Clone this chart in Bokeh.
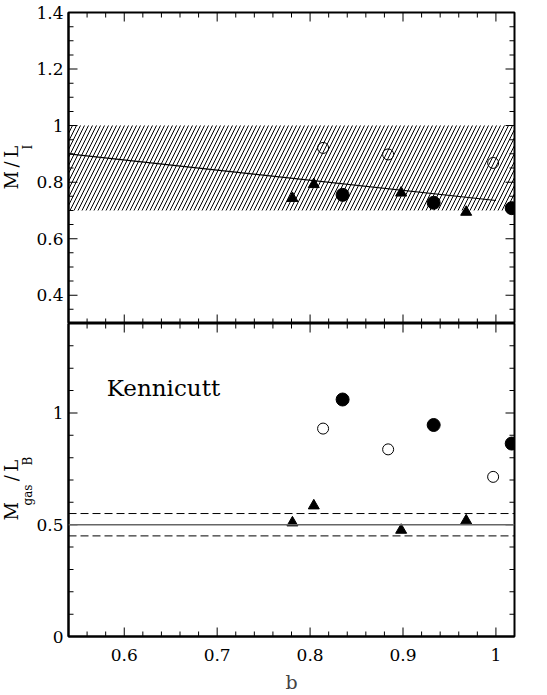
from bokeh.plotting import figure
from bokeh.layouts import column
from bokeh.models import (LinearAxis, FixedTicker, CustomJSTickFormatter,
                          BoxAnnotation, Label, Span, Range1d, Title)
from bokeh.embed import file_html
from bokeh.resources import INLINE
import numpy as np

# ---------------- data ----------------
b_open = [0.814, 0.884, 0.997]
b_filled = [0.835, 0.933, 1.017]
b_tri = [0.781, 0.804, 0.898, 0.968]

ml_open = [0.921, 0.898, 0.868]
ml_filled = [0.755, 0.727, 0.708]
ml_tri = [0.743, 0.792, 0.762, 0.694]

fit_b = [0.54, 1.0]
fit_ml = [0.900, 0.735]

band_low, band_high = 0.70, 1.00

gas_open = [0.930, 0.837, 0.714]
gas_filled = [1.060, 0.946, 0.863]
gas_tri = [0.509, 0.585, 0.476, 0.518]

kennicutt_mean = 0.50
kennicutt_lo = 0.45
kennicutt_hi = 0.55

x_range = (0.54, 1.02)
top_yrange = (0.3, 1.4)
bot_yrange = (0.0, 1.4)

x_major, x_minor = 0.1, 0.02
top_major, top_minor = 0.2, 0.05
bot_major, bot_minor = 0.5, 0.1

FONT = "DejaVu Serif"
TICK_FS = "17px"
FRAME_W = 446
TOP_H = 311
BOT_H = 313
MAJ_LEN, MIN_LEN = 9, 5
NB = "\u00a0"

fmt = CustomJSTickFormatter(code="""
var s = tick.toFixed(1);
if (s.endsWith('.0')) { s = s.slice(0, -2); }
if (s == '-0') { s = '0'; }
return s;
""")

xr = Range1d(*x_range)


def tick_values(lo, hi, step, major_step):
    vals = np.round(np.arange(lo, hi + step * 0.01, step), 4)
    vals = vals[(vals >= lo - 1e-9) & (vals <= hi + 1e-9)]
    is_major = np.isclose(np.round(vals / major_step) * major_step, vals, atol=1e-6)
    return [float(v) for v in vals[is_major]], [float(v) for v in vals[~is_major]]


def frame_ticks(p, yr, frame_h, ymaj_step, ymin_step):
    """Inward ticks on all four frame edges, drawn as thin filled bars (1px wide)."""
    xpp = (x_range[1] - x_range[0]) / FRAME_W
    ypp = (yr[1] - yr[0]) / frame_h
    xM, xm = tick_values(x_range[0], x_range[1], x_minor, x_major)
    yM, ym = tick_values(yr[0], yr[1], ymin_step, ymaj_step)
    L, R, B, T = [], [], [], []
    for xs, ln in [(xM, MAJ_LEN), (xm, MIN_LEN)]:
        for xv in xs:
            # bottom edge, pointing up
            L.append(xv - 0.5 * xpp); R.append(xv + 0.5 * xpp)
            B.append(yr[0]); T.append(yr[0] + ln * ypp)
            # top edge, pointing down
            L.append(xv - 0.5 * xpp); R.append(xv + 0.5 * xpp)
            B.append(yr[1] - ln * ypp); T.append(yr[1])
    for ys, ln in [(yM, MAJ_LEN), (ym, MIN_LEN)]:
        for yv in ys:
            L.append(x_range[0]); R.append(x_range[0] + ln * xpp)
            B.append(yv - 0.5 * ypp); T.append(yv + 0.5 * ypp)
            L.append(x_range[1] - ln * xpp); R.append(x_range[1])
            B.append(yv - 0.5 * ypp); T.append(yv + 0.5 * ypp)
    p.quad(left=L, right=R, bottom=B, top=T, fill_color="black", line_color=None)
    return yM


def label_axis(ax, ticks):
    ax.ticker = FixedTicker(ticks=[float(t) for t in ticks])
    ax.major_tick_in = 0
    ax.major_tick_out = 0
    ax.minor_tick_in = 0
    ax.minor_tick_out = 0
    ax.axis_line_width = 2
    ax.axis_line_color = "black"
    ax.formatter = fmt
    ax.major_label_text_font = FONT
    ax.major_label_text_font_size = TICK_FS
    ax.major_label_text_color = "black"


def make_fig(yr, frame_h, top_border, bottom_border):
    p = figure(x_range=xr, y_range=Range1d(*yr), frame_width=FRAME_W, frame_height=frame_h,
               output_backend="svg", toolbar_location=None,
               min_border_left=67, min_border_right=20,
               min_border_top=top_border, min_border_bottom=bottom_border,
               x_axis_location=None, y_axis_location=None)
    p.grid.visible = False
    p.outline_line_color = "black"
    p.outline_line_width = 2
    p.background_fill_color = None
    p.border_fill_color = None
    return p


def side_title(p, text, size, offset):
    t = Title(text=text, align="left", offset=offset, standoff=0,
              text_font=FONT, text_font_size=size, text_font_style="normal",
              text_color="black")
    try:
        t.standoff = -3
    except Exception:
        pass
    p.add_layout(t, "left")


# ---------------- top panel ----------------
p1 = make_fig(top_yrange, TOP_H, 12, 0)
band = BoxAnnotation(bottom=band_low, top=band_high, fill_alpha=0, line_color=None,
                     hatch_pattern="/", hatch_color="black", hatch_scale=8, hatch_weight=1)
p1.add_layout(band)
p1.line(fit_b, fit_ml, line_color="black", line_width=1.2)
p1.scatter(b_open, ml_open, marker="circle", size=11, fill_color="white",
           line_color="black", line_width=1)
p1.scatter(b_filled, ml_filled, marker="circle", size=13, fill_color="black",
           line_color="black")
p1.scatter(b_tri, ml_tri, marker="triangle", size=11, fill_color="black",
           line_color="black")
yM_top = frame_ticks(p1, top_yrange, TOP_H, top_major, top_minor)

ax = LinearAxis()
label_axis(ax, yM_top)
ax.major_label_standoff = 5
p1.add_layout(ax, "left")
side_title(p1, "I", "12px", 174)
side_title(p1, "M\u2009/\u2009L", "18px", 134)

# ---------------- bottom panel ----------------
p2 = make_fig(bot_yrange, BOT_H, 0, 5)
p2.add_layout(Span(location=kennicutt_mean, dimension="width", line_color="#666666",
                   line_width=1.5))
for lv in [kennicutt_lo, kennicutt_hi]:
    p2.add_layout(Span(location=lv, dimension="width", line_color="black",
                       line_width=1, line_dash="8 4"))

p2.scatter(b_open, gas_open, marker="circle", size=11, fill_color="white",
           line_color="black", line_width=1)
p2.scatter(b_filled, gas_filled, marker="circle", size=13, fill_color="black",
           line_color="black")
p2.scatter(b_tri, gas_tri, marker="triangle", size=11, fill_color="black",
           line_color="black")
yM_bot = frame_ticks(p2, bot_yrange, BOT_H, bot_major, bot_minor)

ax = LinearAxis()
label_axis(ax, yM_bot)
ax.major_label_standoff = 5
p2.add_layout(ax, "left")
side_title(p2, "gas" + NB * 5 + "B", "12px", 131)
side_title(p2, "M" + NB * 3 + "\u2009/\u2009L", "18px", 116)

xM_all, _ = tick_values(x_range[0], x_range[1], x_minor, x_major)
ax_b = LinearAxis()
label_axis(ax_b, xM_all)
ax_b.major_label_standoff = 12
ax_b.axis_label = "b"
ax_b.axis_label_text_font = FONT
ax_b.axis_label_text_font_style = "normal"
ax_b.axis_label_text_font_size = "19px"
ax_b.axis_label_standoff = 7
p2.add_layout(ax_b, "below")

p2.add_layout(Label(x=0.5812, y=1.111, text="Kennicutt", text_align="left",
                    text_baseline="alphabetic", text_font=FONT,
                    text_font_size="23px", text_color="black"))

layout = column(p1, p2, spacing=0)
open("out.html", "w").write(file_html(layout, INLINE))
